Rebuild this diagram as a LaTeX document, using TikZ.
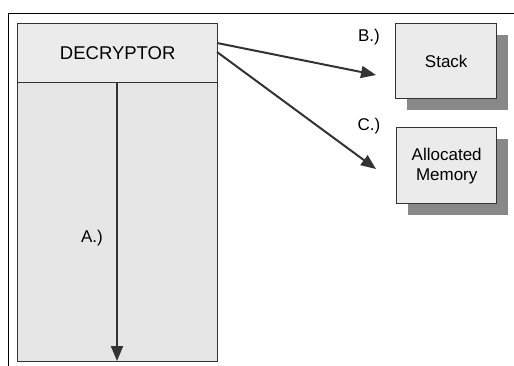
\documentclass[tikz,border=0pt]{standalone}
\usepackage{fontspec}
\setmainfont{Liberation Sans}
\usetikzlibrary{arrows.meta,patterns}
\definecolor{boxfill}{HTML}{EBEBEB}
\definecolor{lowfill}{HTML}{E6E6E6}
\definecolor{shadowc}{HTML}{888888}
\definecolor{linec}{HTML}{333333}
\tikzset{
  plainbox/.style={draw=linec, line width=1.4pt, fill=boxfill, inner sep=0pt, anchor=north west},
  shadowbox/.style={fill=shadowc, draw=none, inner sep=0pt, anchor=north west},
  lbl/.style={font=\fontsize{17}{19}\selectfont, inner sep=0pt},
  arr/.style={draw=linec, line width=2pt, -{Triangle[length=15pt,width=12pt]}}
}
\begin{document}
\begin{tikzpicture}[x=1pt,y=-1pt]
\useasboundingbox (0,0) rectangle (514,366);
% outer frame
\draw[black, line width=1.8pt] (8.5,366) -- (8.5,13.5) -- (514,13.5);
% lower region
\node[plainbox, fill=lowfill, minimum width=200pt, minimum height=279pt] (low) at (17,82) {};
\node[plainbox, minimum width=200pt, minimum height=59pt, font=\fontsize{18.5}{20}\selectfont] (dec) at (17,23) {DECRYPTOR};
% shadows and boxes
\node[shadowbox, minimum width=101pt, minimum height=75pt] (stacksh) at (407,35) {};
\node[plainbox, minimum width=101pt, minimum height=75pt, font=\fontsize{17}{19}\selectfont] (stack) at (395,23) {Stack};
\node[shadowbox, minimum width=100pt, minimum height=76pt] (memsh) at (408,139) {};
\node[plainbox, minimum width=100pt, minimum height=76pt, font=\fontsize{17}{20}\selectfont, align=center] (mem) at (396,127) {Allocated\\Memory};
% labels
\node[lbl] (la) at (92,238) {A.)};
\node[lbl] (lb) at (369,37) {B.)};
\node[lbl] (lc) at (369,126) {C.)};
% arrow targets
\coordinate (tb) at (376,75);
\coordinate (tc) at (376,169);
\coordinate (ta) at (117,361);
\coordinate (sa) at (117,82);
\coordinate (s1) at (217,43);
\coordinate (s2) at (217,52);
\draw[arr] (s1) -- (tb);
\draw[arr] (s2) -- (tc);
\draw[arr] (sa) -- (ta);
\end{tikzpicture}
\end{document}
